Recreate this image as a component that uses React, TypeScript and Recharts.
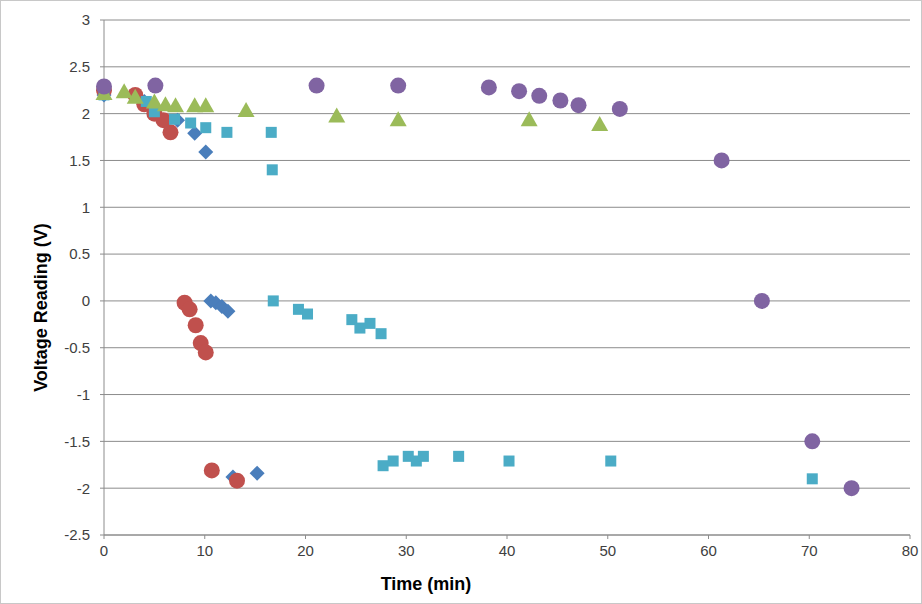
import { ScatterChart, Scatter, XAxis, YAxis, CartesianGrid } from "recharts";

// readings per run, time in min and voltage in V
const blueRun = [
  { x: 0, y: 2.2 }, { x: 4, y: 2.13 }, { x: 5, y: 2.05 }, { x: 7.3, y: 1.93 },
  { x: 9, y: 1.79 }, { x: 10.1, y: 1.59 }, { x: 10.6, y: 0 }, { x: 11.1, y: -0.02 },
  { x: 11.7, y: -0.06 }, { x: 12.3, y: -0.11 }, { x: 12.8, y: -1.88 }, { x: 15.2, y: -1.84 },
];

const redRun = [
  { x: 0, y: 2.25 }, { x: 3.1, y: 2.2 }, { x: 4, y: 2.1 }, { x: 5, y: 2.0 },
  { x: 5.9, y: 1.93 }, { x: 6.6, y: 1.8 }, { x: 8, y: -0.02 }, { x: 8.5, y: -0.09 },
  { x: 9.1, y: -0.26 }, { x: 9.6, y: -0.45 }, { x: 10.1, y: -0.55 }, { x: 10.7, y: -1.81 },
  { x: 13.2, y: -1.92 },
];

const tealRun = [
  { x: 0, y: 2.2 }, { x: 4.2, y: 2.13 }, { x: 5, y: 2.02 }, { x: 7, y: 1.94 },
  { x: 8.6, y: 1.9 }, { x: 10.1, y: 1.85 }, { x: 12.2, y: 1.8 }, { x: 16.6, y: 1.8 },
  { x: 16.7, y: 1.4 }, { x: 16.8, y: 0 }, { x: 19.3, y: -0.09 }, { x: 20.2, y: -0.14 },
  { x: 24.6, y: -0.2 }, { x: 25.4, y: -0.29 }, { x: 26.4, y: -0.24 }, { x: 27.5, y: -0.35 },
  { x: 27.7, y: -1.76 }, { x: 28.7, y: -1.71 }, { x: 30.2, y: -1.66 }, { x: 31, y: -1.71 },
  { x: 31.7, y: -1.66 }, { x: 35.2, y: -1.66 }, { x: 40.2, y: -1.71 }, { x: 50.3, y: -1.71 },
  { x: 70.3, y: -1.9 },
];

const greenRun = [
  { x: 0, y: 2.22 }, { x: 2, y: 2.24 }, { x: 3.1, y: 2.18 }, { x: 5, y: 2.13 },
  { x: 6.1, y: 2.1 }, { x: 7.1, y: 2.09 }, { x: 9, y: 2.09 }, { x: 10.1, y: 2.09 },
  { x: 14.1, y: 2.04 }, { x: 23.1, y: 1.98 }, { x: 29.2, y: 1.94 }, { x: 42.2, y: 1.94 },
  { x: 49.2, y: 1.89 },
];

const purpleRun = [
  { x: 0, y: 2.29 }, { x: 5.1, y: 2.3 }, { x: 21.1, y: 2.3 }, { x: 29.2, y: 2.3 },
  { x: 38.2, y: 2.28 }, { x: 41.2, y: 2.24 }, { x: 43.2, y: 2.19 }, { x: 45.3, y: 2.14 },
  { x: 47.1, y: 2.09 }, { x: 51.2, y: 2.05 }, { x: 61.3, y: 1.5 }, { x: 65.3, y: 0 },
  { x: 70.3, y: -1.5 }, { x: 74.2, y: -2.0 },
];

const xTicks = [0, 10, 20, 30, 40, 50, 60, 70, 80];
const yTicks = [-2.5, -2, -1.5, -1, -0.5, 0, 0.5, 1, 1.5, 2, 2.5, 3];

const gridColor = "#8c8c8c";
const tickStyle = { fontSize: 15, fill: "#404040", fontFamily: "Liberation Sans, Arial, sans-serif" };

const dot = (color: string) => (p: any) => <circle cx={p.cx} cy={p.cy} r={8} fill={color} />;
const square = (color: string) => (p: any) => (
  <rect x={p.cx - 5.5} y={p.cy - 5.5} width={11} height={11} fill={color} />
);
const diamond = (color: string) => (p: any) => (
  <polygon
    points={`${p.cx},${p.cy - 7.5} ${p.cx + 7.5},${p.cy} ${p.cx},${p.cy + 7.5} ${p.cx - 7.5},${p.cy}`}
    fill={color}
  />
);
const triangle = (color: string) => (p: any) => (
  <polygon
    points={`${p.cx},${p.cy - 8} ${p.cx + 8.5},${p.cy + 7} ${p.cx - 8.5},${p.cy + 7}`}
    fill={color}
  />
);

export default function App() {
  return (
    <div
      style={{
        position: "absolute",
        left: 0,
        top: 0,
        width: 920,
        height: 602,
        border: "1px solid #c8c8c8",
        background: "#fff",
      }}
    >
      <ScatterChart width={920} height={602} margin={{ top: 19, right: 11, left: 43, bottom: 18 }}>
        <CartesianGrid vertical={false} stroke={gridColor} />
        <XAxis
          type="number"
          dataKey="x"
          domain={[0, 80]}
          ticks={xTicks}
          stroke={gridColor}
          tick={tickStyle}
          tickSize={4}
          tickMargin={6}
          height={50}
          label={(props: any) => {
            const vb = props.viewBox;
            return (
              <text
                x={vb.x + vb.width / 2 - 81}
                y={vb.y + 55}
                textAnchor="middle"
                fontSize={18}
                fontWeight="bold"
                fontFamily="Liberation Sans, Arial, sans-serif"
                fill="#000"
              >
                Time (min)
              </text>
            );
          }}
        />
        <YAxis
          type="number"
          dataKey="y"
          domain={[-2.5, 3]}
          ticks={yTicks}
          stroke={gridColor}
          tick={tickStyle}
          tickSize={4}
          tickMargin={10}
          width={60}
          label={(props: any) => {
            const vb = props.viewBox;
            const cx = 40;
            const cy = vb.y + vb.height / 2 + 30;
            return (
              <text
                x={cx}
                y={cy}
                transform={`rotate(-90, ${cx}, ${cy})`}
                textAnchor="middle"
                dominantBaseline="central"
                fontSize={18}
                fontWeight="bold"
                fontFamily="Liberation Sans, Arial, sans-serif"
                fill="#000"
              >
                Voltage Reading (V)
              </text>
            );
          }}
        />
        <Scatter data={blueRun} shape={diamond("#4a7ebb")} isAnimationActive={false} />
        <Scatter data={redRun} shape={dot("#c0504d")} isAnimationActive={false} />
        <Scatter data={tealRun} shape={square("#4bacc6")} isAnimationActive={false} />
        <Scatter data={greenRun} shape={triangle("#9bbb59")} isAnimationActive={false} />
        <Scatter data={purpleRun} shape={dot("#8064a2")} isAnimationActive={false} />
      </ScatterChart>
    </div>
  );
}
